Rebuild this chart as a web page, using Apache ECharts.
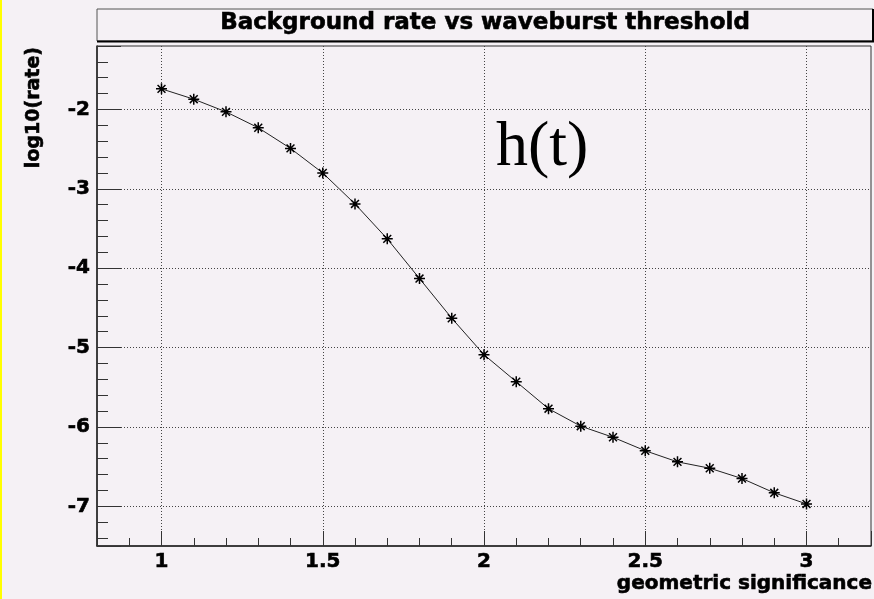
<!DOCTYPE html>
<html>
<head>
<meta charset="utf-8">
<script src="https://cdn.jsdelivr.net/npm/echarts@6/dist/echarts.min.js"></script>
<style>
html,body{margin:0;padding:0;background:#f5f1f5;}
#chart{width:874px;height:599px;}
</style>
</head>
<body>
<div id="chart"></div>
<script>
// ---- data ----
const significance = [1.0, 1.1, 1.2, 1.3, 1.4, 1.5, 1.6, 1.7, 1.8, 1.9, 2.0, 2.1, 2.2, 2.3, 2.4, 2.5, 2.6, 2.7, 2.8, 2.9, 3.0];
const logRate = [-1.74, -1.87, -2.03, -2.23, -2.49, -2.80, -3.19, -3.63, -4.13, -4.63, -5.09, -5.43, -5.77, -5.99, -6.13, -6.30, -6.44, -6.52, -6.65, -6.83, -6.97];
const xRange = [0.8, 3.2];
const yRange = [-7.5, -1.2];
const titleText = 'Background rate vs waveburst threshold';
const xTitle = 'geometric significance';
const yTitle = 'log10(rate)';
const annotation = 'h(t)';

const FONT = 'DejaVu Sans';
const chart = echarts.init(document.getElementById('chart'), null, {renderer: 'canvas'});

const points = significance.map((x, i) => [x, logRate[i]]);
const star = 'path://M0,-6L0,6M-6,0L6,0M-4.3,-4.3L4.3,4.3M-4.3,4.3L4.3,-4.3';

function near(v, step) { return Math.abs(v / step - Math.round(v / step)) < 1e-6; }

const heavy = {textBorderColor: '#000', textBorderWidth: 0.6};

const option = {
  backgroundColor: '#f5f1f5',
  animation: false,
  title: {
    text: titleText,
    left: 485, top: 12, padding: 0,
    textAlign: 'center',
    textStyle: Object.assign({fontFamily: FONT, fontWeight: 'bold', fontSize: 23, color: '#000'}, heavy)
  },
  grid: {left: 97, right: 1, top: 46, bottom: 53, show: true, borderColor: '#333', borderWidth: 1, backgroundColor: 'transparent'},
  xAxis: [
    {
      type: 'value', position: 'bottom', min: xRange[0], max: xRange[1],
      minInterval: 0.5, maxInterval: 0.5,
      axisLine: {show: true, lineStyle: {color: '#222', width: 1.5}},
      axisTick: {show: true, inside: true, length: 15, lineStyle: {color: '#333'}},
      axisLabel: Object.assign({
        margin: 6, color: '#000', fontFamily: FONT, fontWeight: 'bold', fontSize: 20,
        formatter: v => (v >= 1 - 1e-6 && v <= 3 + 1e-6 && near(v, 0.5)) ? String(+v.toFixed(1)) : ''
      }, heavy),
      splitLine: {show: true, showMinLine: false, showMaxLine: false, lineStyle: {color: '#444', width: 1, type: [1, 2]}}
    },
    {
      type: 'value', position: 'bottom', min: xRange[0], max: xRange[1],
      minInterval: 0.1, maxInterval: 0.1,
      axisLine: {show: false},
      axisTick: {show: true, inside: true, length: 8, lineStyle: {color: '#333'}},
      axisLabel: {show: false},
      splitLine: {show: false}
    }
  ],
  yAxis: [
    {
      type: 'value', position: 'left', min: yRange[0], max: yRange[1],
      minInterval: 1, maxInterval: 1,
      axisLine: {show: true, lineStyle: {color: '#222', width: 1.5}},
      axisTick: {show: true, inside: true, length: 24, lineStyle: {color: '#333'}},
      axisLabel: Object.assign({
        margin: 7, color: '#000', fontFamily: FONT, fontWeight: 'bold', fontSize: 20,
        formatter: v => (v >= -7 - 1e-6 && v <= -2 + 1e-6 && near(v, 1)) ? String(Math.round(v)) : ''
      }, heavy),
      splitLine: {show: true, showMinLine: false, showMaxLine: false, lineStyle: {color: '#444', width: 1, type: [1, 2]}}
    },
    {
      type: 'value', position: 'left', min: yRange[0], max: yRange[1],
      minInterval: 0.2, maxInterval: 0.2,
      axisLine: {show: false},
      axisTick: {show: true, inside: true, length: 11, lineStyle: {color: '#333'}},
      axisLabel: {show: false},
      splitLine: {show: false}
    }
  ],
  series: [{
    type: 'line',
    xAxisIndex: 0, yAxisIndex: 0,
    data: points,
    symbol: star, symbolSize: 11,
    lineStyle: {color: '#222', width: 1},
    itemStyle: {color: '#000', borderColor: '#000', borderWidth: 1.5},
    emphasis: {disabled: true}
  }],
  graphic: [
    {type: 'rect', left: 0, top: 0, shape: {width: 2, height: 599}, style: {fill: '#ffff00'}, silent: true},
    {type: 'rect', x: 97, y: 9, shape: {width: 776, height: 32}, style: {fill: 'transparent', stroke: '#555', lineWidth: 1}, z: -1, silent: true},
    {type: 'line', shape: {x1: 97, y1: 41.5, x2: 874, y2: 41.5}, style: {stroke: '#000', lineWidth: 2}, silent: true},
    {type: 'line', shape: {x1: 873, y1: 9, x2: 873, y2: 42}, style: {stroke: '#000', lineWidth: 2}, silent: true},
    {type: 'text', x: 872, y: 584, style: {text: xTitle, align: 'right', verticalAlign: 'middle', fontFamily: FONT, fontWeight: 'bold', fontSize: 20, fill: '#000', stroke: '#000', lineWidth: 0.6}, silent: true},
    {type: 'text', x: 34, y: 47, rotation: Math.PI / 2, style: {text: yTitle, align: 'right', verticalAlign: 'middle', fontFamily: FONT, fontWeight: 'bold', fontSize: 19, fill: '#000', stroke: '#000', lineWidth: 0.6}, silent: true},
    {type: 'text', x: 496, y: 148, style: {text: annotation, align: 'left', verticalAlign: 'middle', fontFamily: 'Liberation Serif', fontSize: 64, fill: '#000'}, silent: true}
  ]
};
chart.setOption(option);
</script>
</body>
</html>
